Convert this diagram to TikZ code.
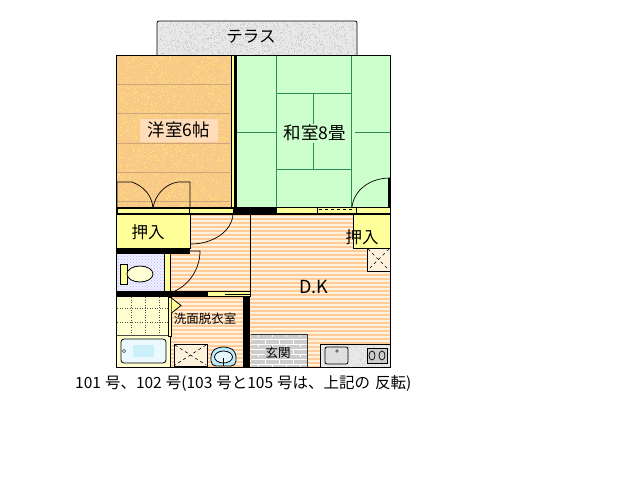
\documentclass[tikz,border=0pt]{standalone}
\usepackage{fontspec}
\setmainfont{Noto Sans CJK JP}
\usetikzlibrary{patterns}
\definecolor{woodfloor}{HTML}{F9C987}
\definecolor{woodspeck}{HTML}{FBE37C}
\definecolor{woodline}{HTML}{CFA67C}
\definecolor{tatami}{HTML}{CCFFCC}
\definecolor{tatamiline}{HTML}{2E8B57}
\definecolor{closet}{HTML}{FFFF99}
\definecolor{stripe}{HTML}{FFCC99}
\definecolor{stripelight}{HTML}{FFF2DC}
\definecolor{peachlabel}{HTML}{FFDDBB}
\definecolor{stonegray}{HTML}{E8E8E8}
\definecolor{stonespeck}{HTML}{CFCFCF}
\newcommand{\speckle}[6]{%
  \foreach \n in {1,...,#6}{%
    \pgfmathsetmacro{\sx}{#1+rnd*(#3-#1)}%
    \pgfmathsetmacro{\sy}{#2+rnd*(#4-#2)}%
    \fill[#5] (\sx,\sy) rectangle ++(1,1);
  }}
\newcommand{\stripes}[4]{%
  \fill[stripelight] (#1,#2) rectangle (#3,#4);
  \foreach \yy in {#2,\the\numexpr#2+4\relax,...,#4}{%
    \ifnum\yy<#4 \fill[stripe] (#1,\yy) rectangle (#3,\yy+2);\fi
  }}
\begin{document}
\begin{tikzpicture}[x=1pt,y=-1pt]
    \tikzset{Wall/.style={fill=black},
        Outline/.style={draw=black,line width=0.8pt},
        Yellow/.style={fill=closet,draw=black,line width=0.8pt},
        Tatami/.style={draw=tatamiline,line width=0.8pt},
        Door/.style={draw=black,line width=0.7pt},
        Label/.style={inner sep=0pt,font=\fontsize{16.5}{16.5}\selectfont},
        RoomName/.style={inner sep=0pt,font=\fontsize{17.5}{17.5}\selectfont},
        Small/.style={inner sep=0pt,font=\fontsize{12.5}{13}\selectfont}}
    \useasboundingbox (0,0) rectangle (640,480);
    \fill[white] (0,0) rectangle (640,480);
    \pgfmathsetseed{7}

    % terrace
    \fill[stonegray,rounded corners=2pt] (157,21) rectangle (357,55);
    \speckle{159}{22}{355}{54}{stonespeck}{1300}
    \draw[Outline,rounded corners=2pt] (157,55) -- (157,21) -- (357,21) -- (357,55);
    \node[Label] (terrace) at (251,37) {テラス};

    % western room
    \fill[woodfloor] (116,55) rectangle (231,208);
    \speckle{117}{56}{230}{207}{woodspeck}{2200}
    \speckle{117}{56}{230}{207}{orange!40}{400}
    \foreach \yy in {84,113,143,172,201}{\draw[woodline] (116,\yy) -- (230,\yy);}
    \node[RoomName,fill=peachlabel,minimum width=78pt,minimum height=23pt] (youshitsu) at (179,130) {洋室6帖};

    % japanese room
    \fill[tatami] (236,55) rectangle (390,207);
    \draw[Tatami] (276,93) -- (351,93);
    \draw[Tatami] (276,169) -- (351,169);
    \draw[Tatami] (313,93) -- (313,169);
    \draw[Tatami] (236,132) -- (276,132);
    \draw[Tatami] (355,132) -- (390,132);
    \node[RoomName,fill=tatami,minimum width=72pt,minimum height=19pt] (washitsu) at (315,133) {和室8畳};
    \draw[Tatami] (276,55) -- (276,207);
    \draw[Tatami] (351,55) -- (351,207);

    % partition between the rooms
    \fill[closet] (231,55) rectangle (236,208);
    \draw[Outline] (231,55) -- (231,208);
    \fill[black] (234,55) rectangle (237,207);

    % floors
    \stripes{250}{214}{390}{367}
    \stripes{170}{214}{250}{291}
    \stripes{171}{297}{243}{367}

    % closets and strips
    \draw[Yellow] (117,208.5) rectangle (189,213);
    \draw[Yellow] (189,208.5) rectangle (233,213);
    \draw[Yellow] (276,207.5) rectangle (390,213);
    \draw[Yellow] (317,207.5) rectangle (356,213);
    \draw[black,dashed,line width=0.7pt] (319,209.5) -- (355,209.5);
    \draw[Yellow] (116,214) rectangle (190,248);
    \node[Label] (closetw) at (148,232) {押入};
    \draw[Yellow] (353,214) rectangle (390,248);
    \node[Label] (closete) at (362,237) {押入};
    \draw[Yellow,fill=stripelight] (367,248) rectangle (390,271);
    \draw[black,dashed,line width=0.6pt] (368,249) -- (389,270) (389,249) -- (368,270);

    % toilet
    \fill[blue!6] (117,254) rectangle (164,291);
    \fill[pattern=crosshatch dots,pattern color=blue!30] (117,254) rectangle (164,291);
    \draw[Yellow] (120,264) rectangle (127,284);
    \draw[Yellow,fill=closet!40] (140,274) ellipse (13 and 8);
    \draw[Yellow] (164,251) rectangle (170,291);

    % bathroom
    \fill[closet!45] (117,297) rectangle (168,336);
    \foreach \xx in {131,145,159}{\draw[black!70,dotted,line width=0.5pt] (\xx,297) -- (\xx,335);}
    \foreach \yy in {308,322}{\draw[black!70,dotted,line width=0.5pt] (117,\yy) -- (168,\yy);}
    \fill[closet!45] (117,335) rectangle (170,367);
    \draw[black!70] (117,335) -- (168,335);
    \draw[Outline,fill=cyan!8,rounded corners=3pt] (121,339) rectangle (166,363);
    \fill[cyan!20] (133,345) rectangle (154,357);
    \draw[black,fill=white] (124,351) circle (1.6);
    \draw[Yellow] (168,297) rectangle (171,336);
    \draw[black] (170.5,336) -- (170.5,367);
    \draw[Yellow] (171.5,298) -- (181,305.5) -- (171.5,313);
    \node[Small] (senmen) at (205,319) {洗面脱衣室};

    % washer and basin
    \draw[Outline,fill=stripelight] (174,344) rectangle (207,366);
    \draw[black,dashed,line width=0.6pt] (175,345) -- (206,365) (206,345) -- (175,365);
    \draw[Outline,fill=cyan!25,rounded corners=5pt] (211,366) -- (211,352) -- (218,347) -- (229,347) -- (236,352) -- (236,366) -- cycle;
    \draw[Outline,fill=cyan!10] (223.5,357) ellipse (9 and 6);
    \draw[black,line width=0.8pt] (223.5,358) -- (223.5,366);

    % entrance
    \fill[gray!40] (251,334) rectangle (307,367);
    \foreach \yy in {339,344,349,354,359,364}{\draw[white,line width=0.8pt] (251,\yy) -- (307,\yy);}
    \foreach \xx in {258,272,286,300}{
        \foreach \yy in {334,344,354,364}{\draw[white,line width=0.8pt] (\xx,\yy) -- (\xx,\yy+3);}
    }
    \foreach \xx in {265,279,293}{
        \foreach \yy in {339,349,359}{\draw[white,line width=0.8pt] (\xx,\yy) -- (\xx,\yy+5);}
    }
    \draw[black!80] (251,334) -- (307,334) -- (307,367);
    \node[Small,fill=gray!40,inner sep=0.5pt] (genkan) at (278,353) {玄関};

    % kitchen
    \fill[stonegray] (320,344) rectangle (390,367);
    \speckle{321}{345}{389}{366}{stonespeck}{130}
    \draw[Outline] (390,367) -- (320,367) -- (320,344) -- (390,344);
    \draw[Outline,fill=gray!25,rounded corners=2pt] (325,347) rectangle (348,364);
    \draw[black] (337,351) circle (1.4);
    \draw[Outline,fill=gray!40] (367,348) rectangle (387,363);
    \draw[black,line width=0.7pt] (372,355.5) ellipse (3 and 4.5);
    \draw[black,line width=0.7pt] (382,355.5) ellipse (3 and 4.5);
    \node[inner sep=0pt,font=\fontsize{18}{18}\selectfont] (dk) at (314,287) {D.K};

    % walls
    \fill[Wall] (233,207) rectangle (276,214);
    \fill[Wall] (116,248) rectangle (190,254);
    \fill[Wall] (116,291) rectangle (207,297);
    \fill[Wall] (243,297) rectangle (250,367);
    \draw[Yellow] (207,291.5) rectangle (250,296.5);
    \draw[black,line width=0.7pt] (225,294) -- (250,294);
    \fill[Wall] (388,178) rectangle (390.5,208);
    \draw[Outline] (116,55) rectangle (390,367);
    \draw[Outline] (116,214) -- (390,214);
    \draw[Outline] (250,214) -- (250,297);
    \fill[Wall] (116,207) rectangle (390,208);

    % doors
    \draw[Door] (117,208) -- (117,182) -- (132,182) .. controls (143,186) and (152,195) .. (153,208);
    \draw[Door] (190,208) -- (190,182) -- (178,182) .. controls (165,184) and (155,195) .. (153,208);
    \draw[Door] (352,207) .. controls (354,190) and (370,178) .. (390,178);
    \draw[Door] (233,214) .. controls (232,232) and (212,244) .. (191,244);
    \draw[Door] (171,251) -- (200,251) .. controls (200,268) and (190,284) .. (175,291);

    % caption
    \node[anchor=west,inner sep=0pt,font=\fontsize{15.5}{15.5}\selectfont] (caption) at (75,384) {101\hspace{4pt}号、102\hspace{4pt}号(103\hspace{4pt}号と105\hspace{4pt}号は、上記の\hspace{5pt}反転)};
\end{tikzpicture}
\end{document}
